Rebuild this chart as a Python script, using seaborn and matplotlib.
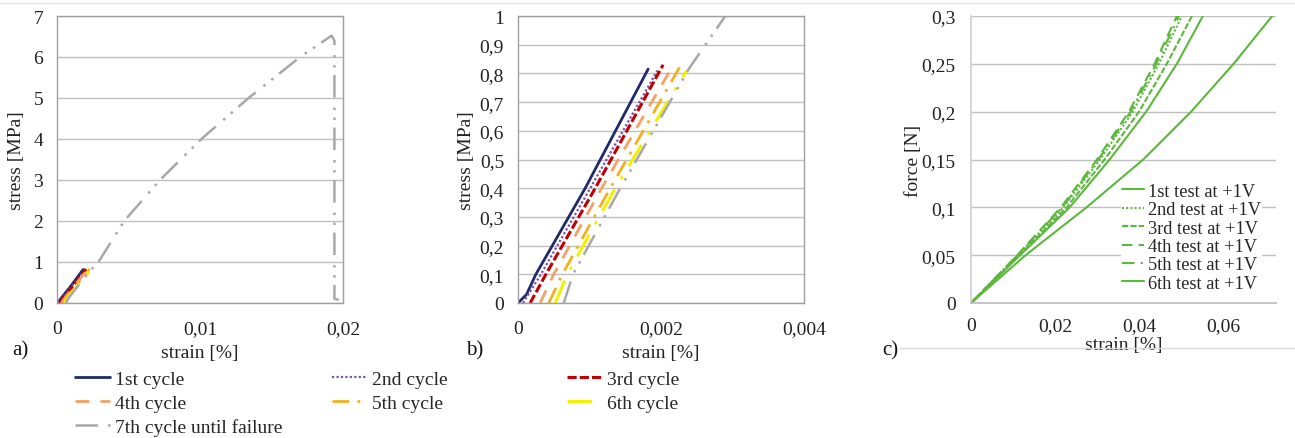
import numpy as np
import pandas as pd
import seaborn as sns
import matplotlib.pyplot as plt
from matplotlib.ticker import FuncFormatter, MultipleLocator
from matplotlib.lines import Line2D

# ---- data ----
cycle_names = ["1st cycle", "2nd cycle", "3rd cycle", "4th cycle",
               "5th cycle", "6th cycle", "7th cycle until failure"]
# strain [%] / stress [MPa] for the loading cycles
c1_x = [0, 0.00012, 0.00025, 0.00094, 0.00182]
c1_y = [0, 0.03, 0.1, 0.4, 0.815]
c2_x = [0.00007, 0.00032, 0.00101, 0.00195]
c2_y = [0, 0.1, 0.4, 0.81]
c3_x = [0.00017, 0.00039, 0.00108, 0.00203]
c3_y = [0, 0.1, 0.4, 0.83]
c4_x = [0.00031, 0.00050, 0.00117, 0.00215]
c4_y = [0, 0.1, 0.4, 0.82]
c5_x = [0.00043, 0.00062, 0.00129, 0.00228]
c5_y = [0, 0.1, 0.4, 0.83]
c6_x = [0.00052, 0.00069, 0.00136, 0.00236]
c6_y = [0, 0.1, 0.4, 0.81]
c7_x = [0.00064, 0.00077, 0.00143, 0.0024, 0.0029, 0.0047, 0.0072, 0.0101,
        0.0134, 0.0170, 0.0192, 0.0194, 0.0194, 0.0197]
c7_y = [0, 0.1, 0.4, 0.82, 1.0, 2.0, 3.0, 4.0, 5.0, 6.0, 6.52, 6.4, 0.1, 0.08]

test_names = ["1st test at +1V", "2nd test at +1V", "3rd test at +1V",
              "4th test at +1V", "5th test at +1V", "6th test at +1V"]
force = [0, 0.05, 0.1, 0.15, 0.2, 0.25, 0.3]
t1_x = [0, 0.0117, 0.0235, 0.0330, 0.0417, 0.0490, 0.0552]
t2_x = [0, 0.0112, 0.0220, 0.0307, 0.0385, 0.0447, 0.0502]
t3_x = [0, 0.0115, 0.0228, 0.0318, 0.0400, 0.0466, 0.0526]
t4_x = [0, 0.0110, 0.0214, 0.0300, 0.0376, 0.0437, 0.0490]
t5_x = [0, 0.0111, 0.0217, 0.0303, 0.0380, 0.0441, 0.0495]
t6_x = [0, 0.0130, 0.0275, 0.0410, 0.0524, 0.0625, 0.0717]

cyc_x = [c1_x, c2_x, c3_x, c4_x, c5_x, c6_x, c7_x]
cyc_y = [c1_y, c2_y, c3_y, c4_y, c5_y, c6_y, c7_y]
cyc_colors = ["#1F2A6B", "#7A4FB0", "#C00000", "#F4A264", "#F2B01E", "#F5F000", "#A8A8A8"]
cyc_styles = ["-", (0, (1, 1)), (0, (3, 1)), (0, (5, 4)), (0, (6, 3, 1, 3)),
              (0, (8, 4, 1, 4)), (0, (9, 4, 1, 3, 1, 3))]
cyc_lw = [2.0, 1.6, 2.2, 2.0, 2.0, 2.2, 1.8]

tests_x = [t1_x, t2_x, t3_x, t4_x, t5_x, t6_x]
test_styles = ["-", (0, (1, 1)), (0, (3, 1)), (0, (5, 3)), (0, (6, 3, 1, 3)), "-"]
green = "#5CB83C"

sns.set_theme(style="white")
plt.rcParams['font.family'] = ['Liberation Serif', 'DejaVu Serif']
FS = 14

fig = plt.figure(figsize=(12.95, 4.39), dpi=100)
W, H = 1295, 439
def box(l, r, t, b):
    return [l / W, 1 - b / H, (r - l) / W, (b - t) / H]

axa = fig.add_axes(box(57, 343, 17, 304))
axb = fig.add_axes(box(518, 804, 17, 304))
axc = fig.add_axes(box(971, 1276, 17, 304))

comma = FuncFormatter(lambda v, p: f"{v:g}".replace('.', ','))

handles = []
for ax in (axa, axb):
    for i in range(7):
        df = pd.DataFrame({"strain": cyc_x[i], "stress": cyc_y[i]})
        sns.lineplot(data=df, x="strain", y="stress", ax=ax, sort=False,
                     estimator=None, color=cyc_colors[i], linestyle=cyc_styles[i],
                     lw=cyc_lw[i])
        if ax is axa:
            handles.append(Line2D([], [], color=cyc_colors[i], linestyle=cyc_styles[i],
                                  lw=cyc_lw[i]))
for i in range(6):
    df = pd.DataFrame({"strain": tests_x[i], "force": force})
    sns.lineplot(data=df, x="strain", y="force", ax=axc, sort=False, estimator=None,
                 color=green, linestyle=test_styles[i], lw=1.5, label=test_names[i])

axa.set_xlim(0, 0.02); axa.set_ylim(0, 7)
axa.xaxis.set_major_locator(MultipleLocator(0.01)); axa.yaxis.set_major_locator(MultipleLocator(1))
axb.set_xlim(0, 0.004); axb.set_ylim(0, 1)
axb.xaxis.set_major_locator(MultipleLocator(0.002)); axb.yaxis.set_major_locator(MultipleLocator(0.1))
axc.set_xlim(0, 0.0726); axc.set_ylim(0, 0.3)
axc.xaxis.set_major_locator(MultipleLocator(0.02)); axc.yaxis.set_major_locator(MultipleLocator(0.05))

for ax in (axa, axb, axc):
    ax.xaxis.set_major_formatter(comma)
    ax.yaxis.set_major_formatter(comma)
    ax.grid(axis='y', color='#BFBFBF', lw=1)
    ax.set_axisbelow(True)
    ax.tick_params(length=0, labelsize=FS, colors='#222222')
    ax.set_xlabel("strain [%]", fontsize=FS, color='#222222')

for ax in (axa, axb):
    for s in ax.spines.values():
        s.set_color('#A0A0A0'); s.set_linewidth(1)
    ax.tick_params(axis='x', pad=12.5)
    ax.tick_params(axis='y', pad=10)
    ax.xaxis.labelpad = 4.7
axa.set_ylabel("stress [MPa]", fontsize=FS, color='#222222', labelpad=6)
axb.set_ylabel("stress [MPa]", fontsize=FS, color='#222222', labelpad=3)

axc.spines['top'].set_visible(False); axc.spines['right'].set_visible(False)
axc.spines['left'].set_color('#D0D0D0'); axc.spines['bottom'].set_color('#BFBFBF')
axc.tick_params(axis='x', pad=10)
axc.tick_params(axis='y', pad=11)
axc.xaxis.labelpad = 1.5
axc.set_ylabel("force [N]", fontsize=FS, color='#222222', labelpad=0)
axc.legend(loc='lower right', bbox_to_anchor=(1271 / W, 1 - 303 / H),
           bbox_transform=fig.transFigure, frameon=True, facecolor='white',
           edgecolor='none', fancybox=False, framealpha=1, fontsize=13.2,
           handlelength=1.2, handletextpad=0.2, labelspacing=0.08, borderpad=0.05)

# legend of panels a and b, three columns filled row-wise
cols = [[0, 3, 6], [1, 4], [2, 5]]
xs = [75, 332, 567]
for col, x in zip(cols, xs):
    fig.legend([handles[k] for k in col], [cycle_names[k] for k in col],
               loc='upper left', bbox_to_anchor=(x / W, 1 - 371 / H),
               frameon=False, fontsize=FS, handlelength=1.8, handletextpad=0.25,
               labelspacing=0.33, borderpad=0, borderaxespad=0)

fig.text(12 / W, 1 - 351 / H, "a)", fontsize=15, va='center', color='#111111')
fig.text(466 / W, 1 - 351 / H, "b)", fontsize=15, va='center', color='#111111')
fig.text(882 / W, 1 - 351 / H, "c)", fontsize=15, va='center', color='#111111')

# faint page lines in the scan
fig.add_artist(Line2D([0, 1], [1 - 4 / H, 1 - 4 / H], color='#E4E4E4', lw=1))
fig.add_artist(Line2D([900 / W, 1], [1 - 349 / H, 1 - 349 / H], color='#D8D8D8', lw=1))

fig.savefig("out.png", dpi=100)
